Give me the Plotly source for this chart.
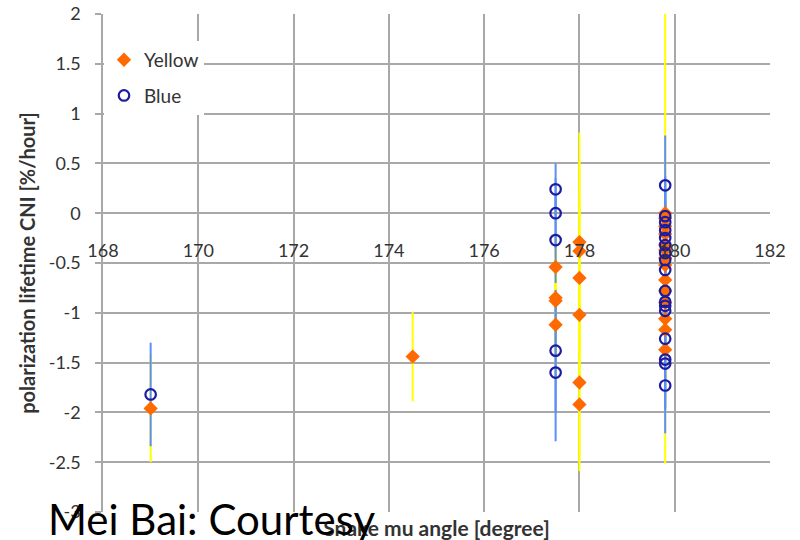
import plotly.graph_objects as go

# Snake mu angle [degree] of each measurement
yellow_x = [169.0, 174.5,
            177.5, 177.5, 177.5, 177.5,
            178.0, 178.0, 178.0, 178.0, 178.0, 178.0,
            179.8, 179.8, 179.8, 179.8, 179.8, 179.8, 179.8,
            179.8, 179.8, 179.8, 179.8, 179.8, 179.8, 179.8]
# polarization lifetime from CNI [%/hour]
yellow_y = [-1.96, -1.44,
            -0.54, -0.85, -0.88, -1.12,
            -0.29, -0.38, -0.65, -1.02, -1.70, -1.92,
            0.00, -0.05, -0.13, -0.21, -0.32, -0.37, -0.45,
            -0.52, -0.67, -0.78, -0.90, -1.06, -1.17, -1.37]
yellow_err = [0.54, 0.45,
              0.35, 0.60, 0.50, 0.55,
              1.10, 0.90, 0.80, 0.75, 0.80, 0.67,
              0.40, 0.35, 0.40, 2.30, 0.45, 0.40, 0.50,
              0.45, 0.50, 0.55, 0.50, 0.60, 0.50, 0.60]

blue_x = [169.0,
          177.5, 177.5, 177.5, 177.5, 177.5,
          179.8, 179.8, 179.8, 179.8, 179.8, 179.8, 179.8, 179.8, 179.8,
          179.8, 179.8, 179.8, 179.8, 179.8, 179.8, 179.8, 179.8]
blue_y = [-1.82,
          0.24, 0.00, -0.27, -1.38, -1.60,
          0.28, -0.03, -0.09, -0.17, -0.25, -0.32, -0.40, -0.47, -0.57,
          -0.78, -0.89, -0.93, -0.98, -1.26, -1.47, -1.51, -1.73]
blue_err = [0.52,
            0.26, 0.35, 0.43, 0.61, 0.69,
            0.50, 0.40, 0.45, 0.40, 0.50, 0.45, 0.50, 0.40, 0.50,
            0.45, 0.50, 0.40, 0.50, 0.55, 0.50, 0.45, 0.48]

x_ticks = [168, 170, 172, 174, 176, 178, 180, 182]
y_ticks = [2, 1.5, 1, 0.5, 0, -0.5, -1, -1.5, -2, -2.5, -3]

FONT = "Lato"
GRID = "#a8a8a8"
TEXT = "#333333"
ORANGE = "#ff6a00"
NAVY = "#1c1ca0"
YELLOW_BAR = "#ffff00"
BLUE_BAR = "#5b8ff5"

fig = go.Figure()

# error bars first, on the base subplot
fig.add_trace(go.Scatter(
    x=yellow_x, y=yellow_y, mode="markers",
    marker=dict(color="rgba(0,0,0,0)", size=1),
    error_y=dict(type="data", array=yellow_err, color=YELLOW_BAR, thickness=2, width=0),
    showlegend=False, hoverinfo="skip"))
fig.add_trace(go.Scatter(
    x=blue_x, y=blue_y, mode="markers",
    marker=dict(color="rgba(0,0,0,0)", size=1),
    error_y=dict(type="data", array=blue_err, color=BLUE_BAR, thickness=2, width=0),
    showlegend=False, hoverinfo="skip"))

# markers on the overlaid subplot so they sit above every error bar
fig.add_trace(go.Scatter(
    x=yellow_x, y=yellow_y, mode="markers", name="Yellow", xaxis="x2",
    legendgroup="yellow",
    marker=dict(symbol="diamond", color=ORANGE, size=11, line=dict(width=0))))
fig.add_trace(go.Scatter(
    x=blue_x, y=blue_y, mode="markers", name="Blue", xaxis="x2",
    legendgroup="blue",
    marker=dict(symbol="circle-open", color=NAVY, size=10.5, line=dict(width=2.2, color=NAVY))))

fig.update_layout(
    width=800, height=540,
    margin=dict(l=103, r=30, t=14, b=28, autoexpand=False),
    paper_bgcolor="white", plot_bgcolor="white",
    font=dict(family=FONT, color=TEXT),
    xaxis=dict(
        range=[168, 182], tickvals=x_ticks, showticklabels=False,
        showgrid=True, gridcolor=GRID, gridwidth=1.6, zeroline=False,
        showline=False, ticks="", automargin=False,
        title=dict(text="<b>Snake mu angle [degree]</b>",
                   font=dict(family=FONT, size=21, color=TEXT), standoff=12),
    ),
    xaxis2=dict(
        range=[168, 182], overlaying="x", anchor="free", position=0.6,
        tickvals=x_ticks, ticktext=[str(v) for v in x_ticks],
        showgrid=False, zeroline=False, showline=False, ticks="",
        ticklabelstandoff=25, automargin=False,
        tickfont=dict(family=FONT, size=18, color=TEXT),
    ),
    yaxis=dict(
        range=[-3, 2], tickvals=y_ticks, ticktext=[f"{v:g}" for v in y_ticks],
        showgrid=True, gridcolor=GRID, gridwidth=1.6, zeroline=False,
        showline=True, linecolor=GRID, linewidth=1.6,
        ticks="outside", ticklen=6, tickcolor=GRID, tickwidth=1.6,
        ticklabelstandoff=11, automargin=False,
        tickfont=dict(family=FONT, size=18, color=TEXT),
        title=dict(text="<b>polarization lifetime CNI [%/hour]</b>",
                   font=dict(family=FONT, size=20, color=TEXT), standoff=8),
    ),
    legend=dict(
        x=0.0015, y=0.946, xanchor="left", yanchor="top",
        bgcolor="white", borderwidth=0,
        font=dict(family=FONT, size=19, color=TEXT),
        traceorder="grouped", tracegroupgap=8,
    ),
    showlegend=True,
)

fig.add_annotation(
    text="Mei Bai: Courtesy", xref="paper", yref="paper",
    x=-0.085, y=-0.014, xanchor="left", yanchor="middle",
    showarrow=False, font=dict(family=FONT, size=42, color="black"))

fig.write_html("out.html")
